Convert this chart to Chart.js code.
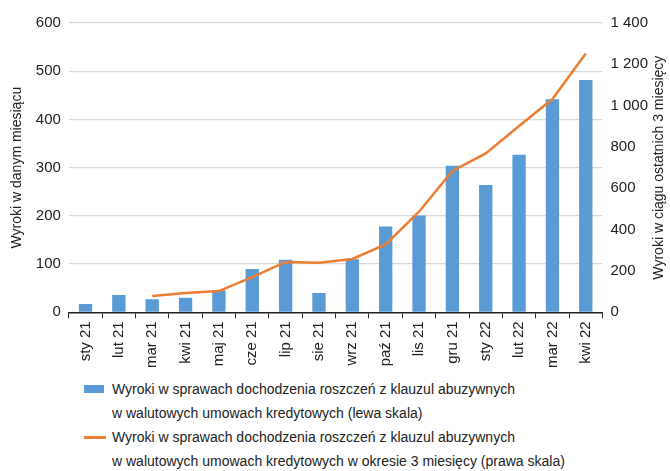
<!DOCTYPE html>
<html>
<head>
<meta charset="utf-8">
<script src="https://cdn.jsdelivr.net/npm/chart.js@4/dist/chart.umd.min.js"></script>
<style>
  body { margin: 0; background: #fff; font-family: "Liberation Sans", Arial, sans-serif; }
  #wrap { position: relative; width: 670px; height: 471px; }
  #chartBox { position: absolute; left: 0; top: 0; width: 670px; height: 371px; }
  .legend { position: absolute; left: 84px; top: 377px; font-size: 14px; color: #222; line-height: 24px; }
  .legend .row { position: relative; padding-left: 28px; margin: 0; }
  .legend .box { position: absolute; left: 0; top: 8px; width: 20px; height: 8px; background: #5B9BD5; }
  .legend .ln { position: absolute; left: 0; top: 11px; width: 22px; height: 3px; background: #ED7D31; }
</style>
</head>
<body>
<div id="wrap">
  <div id="chartBox"><canvas id="wyrokiChart"></canvas></div>
  <div class="legend">
    <div class="row"><span class="box"></span>Wyroki w sprawach dochodzenia roszczeń z klauzul abuzywnych<br>w walutowych umowach kredytowych (lewa skala)</div>
    <div class="row"><span class="ln"></span>Wyroki w sprawach dochodzenia roszczeń z klauzul abuzywnych<br>w walutowych umowach kredytowych w okresie 3 miesięcy (prawa skala)</div>
  </div>
</div>
<script>
const months = ['sty 21', 'lut 21', 'mar 21', 'kwi 21', 'maj 21', 'cze 21', 'lip 21', 'sie 21',
  'wrz 21', 'paź 21', 'lis 21', 'gru 21', 'sty 22', 'lut 22', 'mar 22', 'kwi 22'];
const monthly = [17, 36, 27, 30, 46, 90, 109, 40, 110, 178, 201, 304, 264, 327, 442, 482];
const threeMonths = [null, null, 79, 93, 103, 170, 244, 240, 258, 329, 487, 684, 769, 902, 1032, 1252];
const leftTicks = [0, 600, 100];
const rightTicks = [0, 1400, 200];

const fmt = v => String(v).replace(/\B(?=(\d{3})+(?!\d))/g, ' ');
const txt = '#222';
const fam = '"Liberation Sans", Arial';
const rightTitle = 'Wyroki w ciągu ostatnich 3 miesięcy';

// right axis title reads bottom-to-top like the left one
const rightTitlePlugin = {
  id: 'rightTitle',
  afterDraw(chart) {
    const c = chart.ctx;
    c.save();
    c.font = '14px ' + fam;
    c.fillStyle = txt;
    c.textAlign = 'center';
    c.textBaseline = 'middle';
    c.translate(659, (chart.chartArea.top + chart.chartArea.bottom) / 2);
    c.rotate(-Math.PI / 2);
    c.fillText(rightTitle, 0, 0);
    c.restore();
  }
};

const ctx = document.getElementById('wyrokiChart');
new Chart(ctx, {
  data: {
    labels: months,
    datasets: [
      {
        type: 'line',
        label: 'Wyroki w okresie 3 miesięcy (prawa skala)',
        data: threeMonths,
        yAxisID: 'yR',
        borderColor: '#ED7D31',
        borderWidth: 2.5,
        pointRadius: 0,
        tension: 0,
        order: 0
      },
      {
        type: 'bar',
        label: 'Wyroki (lewa skala)',
        data: monthly,
        yAxisID: 'yL',
        backgroundColor: '#5B9BD5',
        barPercentage: 0.4,
        categoryPercentage: 1,
        order: 1
      }
    ]
  },
  plugins: [rightTitlePlugin],
  options: {
    responsive: true,
    maintainAspectRatio: false,
    animation: false,
    layout: { padding: { top: 23, left: 7, right: 14 } },
    plugins: { legend: { display: false }, tooltip: { enabled: false } },
    scales: {
      x: {
        offset: true,
        grid: { offset: true, drawOnChartArea: false, drawTicks: true, tickLength: 6, color: '#222' },
        border: { display: true, color: '#222', width: 1.5 },
        ticks: {
          maxRotation: 90, minRotation: 90, autoSkip: false,
          color: txt, font: { size: 15, family: fam }, padding: 3
        }
      },
      yL: {
        position: 'left',
        min: leftTicks[0], max: leftTicks[1],
        ticks: { stepSize: leftTicks[2], color: txt, font: { size: 15, family: fam }, padding: 8 },
        grid: { color: '#d9d9d9', lineWidth: 1.2, drawTicks: false },
        border: { display: false },
        title: { display: true, text: 'Wyroki w danym miesiącu', color: txt, font: { size: 14, family: fam }, padding: 2 }
      },
      yR: {
        position: 'right',
        min: rightTicks[0], max: rightTicks[1],
        ticks: { stepSize: rightTicks[2], color: txt, font: { size: 15, family: fam }, padding: 8, callback: v => fmt(v) },
        grid: { drawOnChartArea: false, drawTicks: false },
        border: { display: false }
      }
    }
  }
});
</script>
</body>
</html>
